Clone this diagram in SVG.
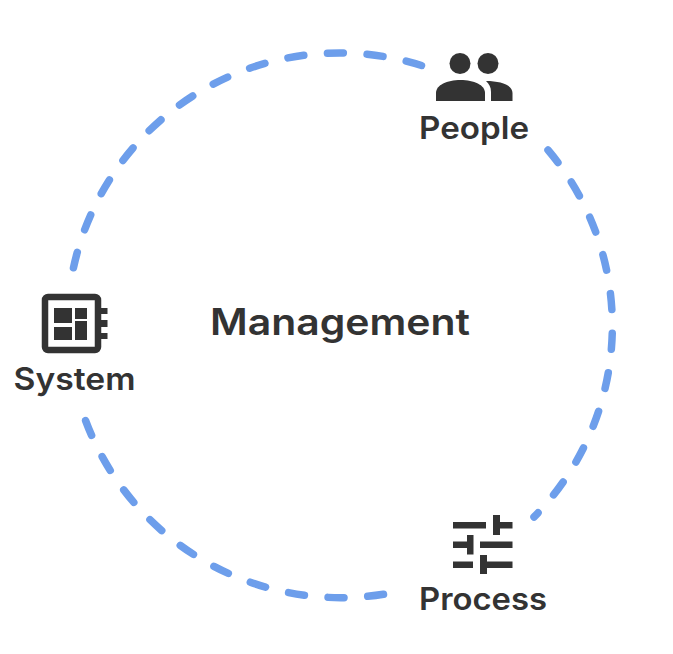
<svg xmlns="http://www.w3.org/2000/svg" width="673" height="654" viewBox="0 0 673 654">
<style>
.dash{fill:none;stroke:#6d9eeb;stroke-width:7.500;stroke-linecap:round;stroke-dasharray:16 23.700}
.ic{fill:#333}
.lb{font-family:Inter,"Liberation Sans",sans-serif;font-weight:600;fill:#333;text-anchor:middle}
</style>
<rect width="673" height="654" fill="#fff"/>
<g id="connectors">
<path class="dash" d="M421.500 65.500A272.400 272.400 0 0 0 73 270"/>
<path class="dash" d="M548 150A272.400 272.400 0 0 1 534 517"/>
<path class="dash" d="M383.500 594.300A272.400 272.400 0 0 1 85 419"/>
</g>
<g id="people">
<circle class="ic" cx="460" cy="63.500" r="10.500"/>
<circle class="ic" cx="488" cy="63.500" r="10.500"/>
<path class="ic" d="M436 101V93C436 85 447 80 460.500 80C474 80 485 85 485 93V101Z"/>
<path class="ic" d="M486 81C501 81 512.500 85 512.500 93V101H491V92C491 87 489 84 486 81Z"/>
<text class="lb" x="474" y="139" font-size="31" textLength="110" lengthAdjust="spacingAndGlyphs">People</text>
</g>
<g id="system">
<rect x="45" y="297" width="53" height="53" rx="3" fill="none" stroke="#333" stroke-width="6.500"/>
<rect class="ic" x="54" y="308" width="18" height="15"/>
<rect class="ic" x="75" y="308" width="12" height="11"/>
<rect class="ic" x="54" y="327" width="18" height="13"/>
<rect class="ic" x="75" y="321" width="12" height="19"/>
<rect class="ic" x="101" y="308" width="6.500" height="6"/>
<rect class="ic" x="101" y="320" width="6.500" height="7"/>
<rect class="ic" x="101" y="333" width="6.500" height="6"/>
<text class="lb" x="74.500" y="390" font-size="31" textLength="122" lengthAdjust="spacingAndGlyphs">System</text>
</g>
<g id="process">
<rect class="ic" x="453" y="522" width="33" height="6.500"/>
<rect class="ic" x="493" y="522" width="19.500" height="6.500"/>
<rect class="ic" x="493" y="515" width="7" height="20"/>
<rect class="ic" x="453" y="541.500" width="20" height="6.500"/>
<rect class="ic" x="467" y="535" width="6.500" height="19.500"/>
<rect class="ic" x="480" y="541.500" width="32.500" height="6.500"/>
<rect class="ic" x="453" y="561.500" width="20" height="6.500"/>
<rect class="ic" x="480" y="561.500" width="32.500" height="6.500"/>
<rect class="ic" x="480" y="555" width="7" height="19"/>
<text class="lb" x="483" y="610" font-size="31" textLength="128" lengthAdjust="spacingAndGlyphs">Process</text>
</g>
<g id="management">
<text class="lb" x="340" y="335" font-size="37" textLength="260" lengthAdjust="spacingAndGlyphs">Management</text>
</g>
</svg>
